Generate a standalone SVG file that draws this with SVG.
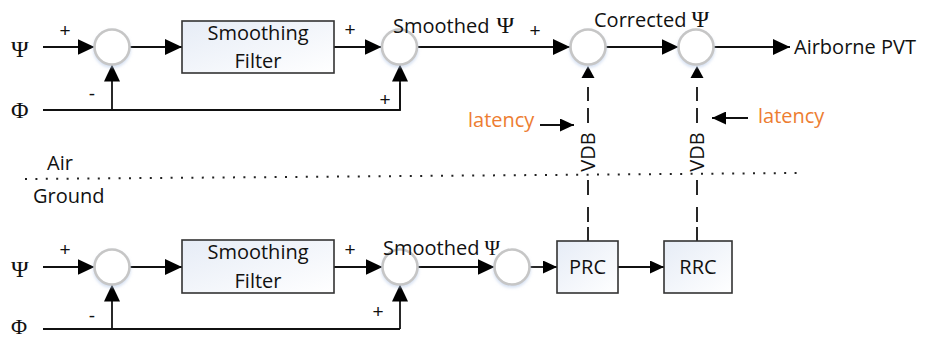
<svg xmlns="http://www.w3.org/2000/svg" width="928" height="341" viewBox="0 0 928 341">
  <style>
    .txt { font-family: "Open Sans", "Liberation Sans", sans-serif; font-size: 20px; fill: #111111; }
    .sign { font-family: "Liberation Sans", sans-serif; font-size: 19px; fill: #111111; }
    .greek { font-family: "Liberation Serif", serif; fill: #111111; }
    .lat { font-family: "Open Sans", "Liberation Sans", sans-serif; font-size: 20px; fill: #ED7D31; }
    .sum { fill: #ffffff; stroke: #c6c6c6; stroke-width: 2.6; }
    .box { fill: url(#boxFill); stroke: #333333; stroke-width: 1.6; }
    .wire { fill: none; stroke: #111111; stroke-width: 1.8; }
    .arr { marker-end: url(#head); }
    .arrs { marker-end: url(#headSmall); }
    .dash { stroke: #111111; stroke-width: 1.8; }
    .dots { fill: none; stroke: #222222; stroke-width: 2; stroke-dasharray: 2 8.4; }
  </style>
  <defs>
    <linearGradient id="boxFill" x1="0" y1="0" x2="1" y2="1">
      <stop offset="0" stop-color="#e6ecf6"/>
      <stop offset="1" stop-color="#ffffff"/>
    </linearGradient>
    <filter id="glow" x="-30%" y="-30%" width="160%" height="170%">
      <feDropShadow dx="0" dy="2" stdDeviation="1.5" flood-color="#b8cbe8" flood-opacity="0.6"/>
    </filter>
    <marker id="head" markerUnits="userSpaceOnUse" markerWidth="18" markerHeight="17" refX="17" refY="8" orient="auto">
      <path d="M0,0 L17,8 L0,16 z" fill="#000"/>
    </marker>
    <marker id="headSmall" markerUnits="userSpaceOnUse" markerWidth="15" markerHeight="13" refX="14" refY="6.5" orient="auto">
      <path d="M0,0 L14,6.5 L0,13 z" fill="#000"/>
    </marker>
  </defs>

  <!-- input labels -->
  <g id="labels-in">
    <text class="greek" x="11" y="57" font-size="24">Ψ</text>
    <text class="greek" x="11" y="118" font-size="24">Φ</text>
    <text class="greek" x="11" y="277" font-size="24">Ψ</text>
    <text class="greek" x="11" y="334" font-size="22">Φ</text>
  </g>

  <!-- connectors -->
  <g id="connectors">
    <!-- airborne chain -->
    <line class="wire arr" x1="43" y1="47" x2="94.5" y2="47"/>
    <line class="wire arr" x1="130" y1="47" x2="182" y2="47"/>
    <line class="wire arr" x1="334" y1="47" x2="381.5" y2="47"/>
    <line class="wire arr" x1="417" y1="47" x2="570" y2="47"/>
    <line class="wire arr" x1="605.5" y1="47" x2="678.5" y2="47"/>
    <line class="wire arr" x1="714" y1="47" x2="790" y2="47"/>
    <polyline class="wire" points="43,110 400,110 400,83"/>
    <line class="wire arr" x1="400" y1="110" x2="400" y2="64.5"/>
    <line class="wire arr" x1="112" y1="110" x2="112" y2="64.5"/>

    <!-- ground chain -->
    <line class="wire arr" x1="43" y1="267" x2="94.5" y2="267"/>
    <line class="wire arr" x1="130" y1="267" x2="182" y2="267"/>
    <line class="wire arr" x1="334" y1="267" x2="382.5" y2="267"/>
    <line class="wire arr" x1="418" y1="267" x2="494.5" y2="267"/>
    <line class="wire arrs" x1="530" y1="267" x2="557" y2="267"/>
    <line class="wire arrs" x1="618" y1="267" x2="664" y2="267"/>
    <line class="wire" x1="43" y1="329" x2="400" y2="329"/>
    <line class="wire arr" x1="400" y1="329" x2="400" y2="284.5"/>
    <line class="wire arr" x1="112" y1="329" x2="112" y2="284.5"/>

    <!-- VDB links (PRC / RRC to airborne correction) -->
    <path d="M581.5,78 L588,66 L594.5,78 z" fill="#000"/>
    <path d="M690.5,78 L697,66 L703.5,78 z" fill="#000"/>
    <path class="dash" d="M588,87 V101 M588,108 V123 M588,180 V195 M588,207 V222 M588,227 V241"/>
    <path class="dash" d="M697,87 V101 M697,108 V123 M697,180 V195 M697,207 V222 M697,227 V241"/>

    <!-- latency pointers -->
    <line class="wire arrs" x1="540" y1="125" x2="574" y2="125"/>
    <line class="wire arrs" x1="748" y1="118" x2="712" y2="118"/>
  </g>

  <!-- air / ground boundary -->
  <line class="dots" x1="25" y1="179" x2="800" y2="173"/>
  <text class="txt" x="47" y="170">Air</text>
  <text class="txt" x="33" y="203">Ground</text>

  <!-- airborne nodes -->
  <g id="sum-air-1"><circle class="sum" cx="112" cy="47" r="17.5" filter="url(#glow)"/></g>
  <g id="filter-air">
    <rect class="box" x="182" y="21" width="152" height="52"/>
    <text class="txt" x="258" y="40" text-anchor="middle">Smoothing</text>
    <text class="txt" x="258" y="68" text-anchor="middle">Filter</text>
  </g>
  <g id="sum-air-2"><circle class="sum" cx="399.5" cy="47" r="17.5" filter="url(#glow)"/></g>
  <g id="sum-air-3"><circle class="sum" cx="588" cy="47" r="17.5" filter="url(#glow)"/></g>
  <g id="sum-air-4"><circle class="sum" cx="696" cy="47" r="17.5" filter="url(#glow)"/></g>

  <!-- ground nodes -->
  <g id="sum-gnd-1"><circle class="sum" cx="112" cy="267" r="17.5" filter="url(#glow)"/></g>
  <g id="filter-gnd">
    <rect class="box" x="182" y="240" width="152" height="53"/>
    <text class="txt" x="258" y="259" text-anchor="middle">Smoothing</text>
    <text class="txt" x="258" y="288" text-anchor="middle">Filter</text>
  </g>
  <g id="sum-gnd-2"><circle class="sum" cx="400" cy="267" r="17.5" filter="url(#glow)"/></g>
  <g id="sum-gnd-3"><circle class="sum" cx="512" cy="267" r="17.5" filter="url(#glow)"/></g>
  <g id="prc">
    <rect class="box" x="557" y="241" width="61" height="52"/>
    <text class="txt" x="587.5" y="274" text-anchor="middle">PRC</text>
  </g>
  <g id="rrc">
    <rect class="box" x="664" y="241" width="68" height="52"/>
    <text class="txt" x="698" y="274" text-anchor="middle">RRC</text>
  </g>

  <!-- signal labels -->
  <g id="signal-labels">
    <text class="txt" x="393" y="33">Smoothed <tspan class="greek" font-size="24" dx="2">Ψ</tspan></text>
    <text class="txt" x="594" y="27">Corrected <tspan class="greek" font-size="24">Ψ</tspan></text>
    <text class="txt" x="383" y="255">Smoothed <tspan class="greek" font-size="21">Ψ</tspan></text>
    <text class="txt" x="794" y="54">Airborne PVT</text>
    <text class="txt" transform="translate(595,152) rotate(-90)" text-anchor="middle">VDB</text>
    <text class="txt" transform="translate(704,152) rotate(-90)" text-anchor="middle">VDB</text>
    <text class="lat" x="468" y="127">latency</text>
    <text class="lat" x="758" y="123">latency</text>
  </g>

  <!-- summing-junction signs -->
  <g id="signs">
    <text class="sign" x="65" y="37" text-anchor="middle">+</text>
    <text class="sign" x="92" y="100" text-anchor="middle">-</text>
    <text class="sign" x="350" y="36" text-anchor="middle">+</text>
    <text class="sign" x="385" y="106" text-anchor="middle">+</text>
    <text class="sign" x="535" y="37" text-anchor="middle">+</text>
    <text class="sign" x="65" y="256" text-anchor="middle">+</text>
    <text class="sign" x="92" y="322" text-anchor="middle">-</text>
    <text class="sign" x="350" y="256" text-anchor="middle">+</text>
    <text class="sign" x="378" y="318" text-anchor="middle">+</text>
  </g>
</svg>
